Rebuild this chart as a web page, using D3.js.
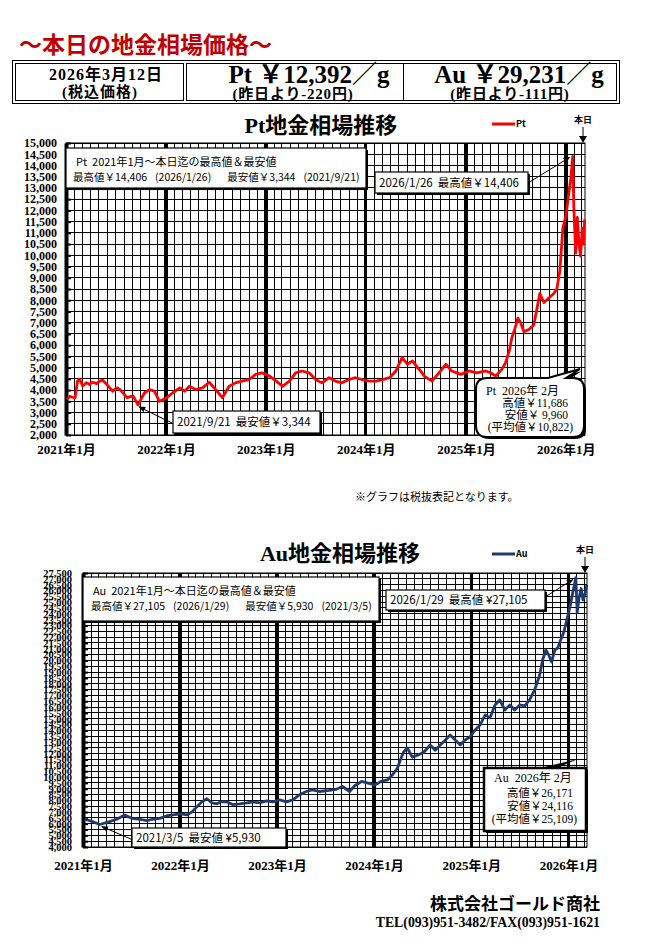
<!DOCTYPE html>
<html>
<head>
<meta charset="utf-8">
<script src="https://cdn.jsdelivr.net/npm/d3@7"></script>
<style>
  body { margin: 0; background: #fff; }
  text { font-family: "Liberation Serif", "Noto Sans CJK JP", serif; white-space: pre; }
  .gothic { font-family: "Noto Sans CJK JP", "Noto Sans", sans-serif; }
  .grid line { shape-rendering: crispEdges; }
</style>
</head>
<body>
<script>
// 表示期間
const startDate = new Date(2021, 0, 1);
const endDate = new Date(2026, 2, 12);
const yearLabels = ["2021年1月", "2022年1月", "2023年1月", "2024年1月", "2025年1月", "2026年1月"];

// Pt 税抜価格
const ptSeries = [
  ["2021-01-05",3600],["2021-01-15",3720],["2021-01-25",3680],["2021-02-03",3650],["2021-02-12",4400],
  ["2021-02-20",4480],["2021-03-03",4180],["2021-03-17",4330],["2021-03-28",4250],["2021-04-08",4350],
  ["2021-04-23",4290],["2021-05-04",4400],["2021-05-15",4440],["2021-05-30",4250],["2021-06-10",4100],
  ["2021-06-21",3950],["2021-07-06",4100],["2021-07-17",4030],["2021-08-12",3660],["2021-09-03",3740],
  ["2021-09-21",3344],["2021-10-15",3880],["2021-11-02",4020],["2021-11-20",3950],["2021-12-08",3500],
  ["2022-01-03",3650],["2022-01-26",3880],["2022-02-21",4100],["2022-03-10",3950],["2022-03-28",4170],
  ["2022-04-20",4020],["2022-05-15",4100],["2022-06-08",4350],["2022-07-02",4020],["2022-07-26",3660],
  ["2022-08-20",4170],["2022-09-12",4320],["2022-10-05",4400],["2022-11-01",4470],["2022-11-25",4700],
  ["2022-12-18",4770],["2023-01-15",4620],["2023-02-08",4400],["2023-03-03",4170],["2023-03-28",4400],
  ["2023-04-20",4770],["2023-05-13",4850],["2023-06-08",4770],["2023-07-02",4470],["2023-07-25",4320],
  ["2023-08-20",4550],["2023-09-12",4400],["2023-10-05",4320],["2023-11-01",4470],["2023-11-25",4550],
  ["2023-12-18",4470],["2024-01-15",4400],["2024-02-08",4400],["2024-03-03",4470],["2024-03-28",4550],
  ["2024-04-20",4850],["2024-05-13",5450],["2024-06-01",5150],["2024-06-20",5300],["2024-07-08",5000],
  ["2024-07-15",4920],["2024-08-02",4620],["2024-08-30",4400],["2024-09-25",4770],["2024-10-20",5150],
  ["2024-11-10",4850],["2024-12-14",4700],["2025-01-12",4850],["2025-02-10",4770],["2025-03-14",4850],
  ["2025-04-01",4770],["2025-04-20",4620],["2025-05-12",4920],["2025-05-26",5220],["2025-06-10",5820],
  ["2025-06-17",6300],["2025-06-28",6700],["2025-07-10",7200],["2025-07-20",7000],["2025-08-01",6600],
  ["2025-08-19",6700],["2025-09-06",6900],["2025-09-17",7600],["2025-09-28",8300],["2025-10-13",7900],
  ["2025-10-31",8100],["2025-11-18",8300],["2025-11-29",8500],["2025-12-10",9300],["2025-12-21",11200],
  ["2026-01-02",11800],["2026-01-10",12600],["2026-01-20",13500],["2026-01-26",14406],["2026-01-30",12200],
  ["2026-02-03",11000],["2026-02-06",10100],["2026-02-12",11686],["2026-02-18",10500],["2026-02-24",9960],
  ["2026-03-02",11200],["2026-03-06",10500],["2026-03-11",11600]
];

// Au 税抜価格
const auSeries = [
  ["2021-01-08",6380],["2021-02-07",6170],["2021-03-05",5930],["2021-04-11",6170],["2021-05-08",6380],
  ["2021-06-07",6750],["2021-07-03",6460],["2021-08-03",6380],["2021-08-29",6260],["2021-09-20",6380],
  ["2021-10-17",6460],["2021-11-13",6680],["2021-12-05",6750],["2022-01-04",6840],["2022-01-27",6750],
  ["2022-02-15",7010],["2022-03-05",7440],["2022-03-24",7870],["2022-04-12",8140],["2022-05-01",7780],
  ["2022-05-20",7700],["2022-06-07",7900],["2022-06-26",7870],["2022-07-18",7640],["2022-08-14",7700],
  ["2022-09-09",7780],["2022-10-02",7870],["2022-10-28",7780],["2022-11-22",7950],["2022-12-16",7870],
  ["2023-01-11",8040],["2023-02-06",7870],["2023-03-01",8040],["2023-03-26",8470],["2023-04-21",8760],
  ["2023-05-14",8900],["2023-06-09",8760],["2023-07-16",8850],["2023-08-12",8950],["2023-09-04",9190],
  ["2023-10-01",8760],["2023-10-20",9250],["2023-11-15",9620],["2023-12-09",9480],["2024-01-05",9330],
  ["2024-01-27",9620],["2024-02-21",9760],["2024-03-10",10190],["2024-03-29",10760],["2024-04-09",11480],
  ["2024-04-21",12150],["2024-05-05",12500],["2024-05-24",11700],["2024-06-15",11900],["2024-07-07",12150],
  ["2024-07-30",12750],["2024-08-18",12300],["2024-09-06",12750],["2024-09-25",13180],["2024-10-13",13600],
  ["2024-11-01",13180],["2024-11-20",12750],["2024-12-08",13180],["2024-12-27",13440],["2025-01-15",14040],
  ["2025-02-03",14470],["2025-02-22",15330],["2025-03-12",15070],["2025-03-31",16180],["2025-04-18",16610],
  ["2025-05-07",15750],["2025-05-26",16180],["2025-06-13",15750],["2025-07-02",16180],["2025-07-21",16100],
  ["2025-08-08",16610],["2025-08-27",17470],["2025-09-15",18760],["2025-09-26",20040],["2025-10-08",20900],
  ["2025-10-19",20470],["2025-10-30",19870],["2025-11-11",20900],["2025-11-22",21070],["2025-12-03",21760],
  ["2025-12-15",22450],["2025-12-26",23480],["2026-01-07",24590],["2026-01-18",25880],["2026-01-29",27105],
  ["2026-02-03",24116],["2026-02-10",25360],["2026-02-18",26171],["2026-02-25",25190],["2026-03-04",25620],
  ["2026-03-11",26500]
];

const ptExtent = [2000, 15000];
const auExtent = [4000, 27500];
const tickStep = 500;

const ptHigh = ["2026-01-26", 14406], ptLow = ["2021-09-21", 3344];
const auHigh = ["2026-01-29", 27105], auLow = ["2021-03-05", 5930];
const ptMonthLines = ["高値￥11,686", "安値￥ 9,960", "(平均値￥10,822)"];
const auMonthLines = ["高値￥26,171", "安値￥24,116", "(平均値￥25,109)"];

const parse = d3.timeParse("%Y-%m-%d");
const fmt = d3.format(",");
const dfmt = d3.timeFormat("%Y/%-m/%-d");

const svg = d3.select("body").append("svg")
  .attr("width", 652).attr("height", 944);

svg.append("defs").append("marker").attr("id", "arr")
  .attr("viewBox", "0 0 10 10").attr("refX", 9).attr("refY", 5)
  .attr("markerWidth", 7).attr("markerHeight", 7).attr("orient", "auto")
  .append("path").attr("d", "M0,1 L10,5 L0,9 Z").attr("fill", "#000");

// 影付きの枠
function shadowBox(g, x, y, w, h, sw) {
  g.append("rect").attr("x", x + 2).attr("y", y + 2).attr("width", w).attr("height", h).attr("fill", "#000");
  g.append("rect").attr("x", x).attr("y", y).attr("width", w).attr("height", h)
    .attr("fill", "#fff").attr("stroke", "#000").attr("stroke-width", sw || 1.2);
}

// ---- ヘッダー ----
svg.append("text").attr("x", 19).attr("y", 53)
  .attr("font-size", 23).attr("font-weight", "bold").attr("fill", "#c00000")
  .text("～本日の地金相場価格～");

const hd = svg.append("g").attr("fill", "none").attr("stroke", "#000");
hd.append("rect").attr("x", 12.5).attr("y", 60.5).attr("width", 607).attr("height", 43);
hd.append("rect").attr("x", 15.5).attr("y", 63.5).attr("width", 168).attr("height", 37);
hd.append("rect").attr("x", 186.5).attr("y", 63.5).attr("width", 430).attr("height", 37);
hd.append("line").attr("x1", 403.5).attr("x2", 403.5).attr("y1", 63.5).attr("y2", 100.5);

const headerTexts = [
  { x: 106, y: 80, s: 16, ls: 1, t: "2026年3月12日" },
  { x: 100, y: 97, s: 15, ls: 1, t: "(税込価格)" },
  { x: 309, y: 83, s: 25, ls: 0, t: "Pt ￥12,392／g" },
  { x: 293, y: 99, s: 15, ls: 0.8, t: "(昨日より-220円)" },
  { x: 519, y: 83, s: 25, ls: 0, t: "Au ￥29,231／g" },
  { x: 510, y: 99, s: 15, ls: 0.8, t: "(昨日より-111円)" }
];
svg.selectAll(".hdt").data(headerTexts).join("text")
  .attr("x", d => d.x).attr("y", d => d.y).attr("font-size", d => d.s)
  .attr("letter-spacing", d => d.ls)
  .attr("font-weight", "bold").attr("text-anchor", "middle").text(d => d.t);

// ---- チャート ----
function drawChart(c) {
  const g = svg.append("g");
  const data = c.series.map(d => ({ date: parse(d[0]), v: d[1] }));
  const x = d3.scaleTime().domain([startDate, endDate]).range([c.left, c.right]);
  const y = d3.scaleLinear().domain(c.extent).range([c.bottom, c.top]);
  const ticks = d3.range(c.extent[0], c.extent[1] + 1, tickStep);

  // 枠と格子
  const grid = g.append("g").attr("class", "grid");
  grid.append("rect").attr("x", c.left).attr("y", c.top)
    .attr("width", c.right - c.left).attr("height", c.bottom - c.top)
    .attr("fill", "#fff").attr("stroke", "#000").attr("stroke-width", 1);
  grid.selectAll(".vm").data(d3.timeMonth.range(startDate, endDate)).join("line")
    .attr("x1", d => x(d)).attr("x2", d => x(d)).attr("y1", c.top).attr("y2", c.bottom)
    .attr("stroke", "#000").attr("stroke-width", 1);
  grid.selectAll(".hm").data(ticks).join("line")
    .attr("x1", c.left).attr("x2", c.right).attr("y1", d => y(d)).attr("y2", d => y(d))
    .attr("stroke", "#000").attr("stroke-width", 1);
  grid.selectAll(".vy").data(d3.timeYear.range(new Date(2022, 0, 1), endDate)).join("line")
    .attr("x1", d => x(d)).attr("x2", d => x(d)).attr("y1", c.top).attr("y2", c.bottom)
    .attr("stroke", "#000").attr("stroke-width", 3.5);

  // 縦軸
  const ya = g.append("g").attr("transform", `translate(${c.left},0)`)
    .call(d3.axisLeft(y).tickValues(ticks).tickFormat(fmt)
      .tickSizeInner(-5).tickSizeOuter(0).tickPadding(c.labelPad));
  ya.select(".domain").attr("stroke-width", 4);
  ya.selectAll(".tick line").attr("stroke-width", 2);
  ya.selectAll(".tick text").attr("font-size", c.labelSize).attr("font-weight", "bold")
    .attr("fill", "#000").attr("font-family", "'Liberation Serif', serif");

  // 横軸
  const xa = g.append("g").attr("transform", `translate(0,${c.bottom})`)
    .call(d3.axisBottom(x).tickValues(d3.timeYear.range(startDate, endDate))
      .tickFormat((d, i) => yearLabels[i]).tickSize(0).tickPadding(c.xPad));
  xa.select(".domain").remove();
  xa.selectAll(".tick text").attr("font-size", 13).attr("font-weight", "bold")
    .attr("fill", "#000").attr("font-family", "'Liberation Serif', 'Noto Sans CJK JP', serif");

  // 価格線
  g.append("path").datum(data)
    .attr("d", d3.line().x(d => x(d.date)).y(d => y(d.v)))
    .attr("fill", "none").attr("stroke", c.color).attr("stroke-width", 2.8)
    .attr("stroke-linejoin", "round");

  // タイトル・凡例・本日
  g.append("text").attr("x", c.titleX).attr("y", c.titleY).attr("text-anchor", "middle")
    .attr("font-size", 22).attr("font-weight", "bold").text(c.name + "地金相場推移");
  g.append("line").attr("x1", 492).attr("x2", 515).attr("y1", c.legendY).attr("y2", c.legendY)
    .attr("stroke", c.color).attr("stroke-width", 3);
  g.append("text").attr("class", "gothic").attr("x", 516).attr("y", c.legendY + 3)
    .attr("font-size", 9).attr("font-weight", "bold").text(c.name);
  const tx = x(endDate) - 2;
  g.append("text").attr("class", "gothic").attr("x", tx).attr("y", c.top - 20)
    .attr("text-anchor", "middle").attr("font-size", 9).attr("font-weight", "bold").text("本日");
  g.append("line").attr("x1", tx).attr("x2", tx).attr("y1", c.top - 16).attr("y2", c.top - 5)
    .attr("stroke", "#000").attr("stroke-width", 1);
  g.append("path").attr("d", `M${tx - 4},${c.top - 7} L${tx + 4},${c.top - 7} L${tx},${c.top} Z`)
    .attr("fill", "#000");

  // 期間の最高値・最安値
  const b = c.infoBox;
  shadowBox(g, b[0], b[1], b[2], b[3]);
  g.append("text").attr("class", "gothic").attr("x", b[0] + 10).attr("y", b[1] + 18)
    .attr("font-size", 11).text(`${c.name}  2021年1月～本日迄の最高値＆最安値`);
  const parts = [
    `最高値￥${fmt(c.high[1])}`, `(${dfmt(parse(c.high[0]))})`,
    `最安値￥${fmt(c.low[1])}`, `(${dfmt(parse(c.low[0]))})`
  ];
  const gaps = [8, 16, 8, 0];
  let cx = c.infoX;
  parts.forEach((t, i) => {
    const el = g.append("text").attr("class", "gothic").attr("x", cx).attr("y", b[1] + 33)
      .attr("font-size", 10.5).text(t);
    cx += el.node().getComputedTextLength() + gaps[i];
  });

  // 吹き出し（最高値・最安値）
  [[c.high, c.highBox, "最高値"], [c.low, c.lowBox, "最安値"]].forEach(([p, bx, lab]) => {
    const px = x(parse(p[0])), py = y(p[1]);
    g.append("line").attr("x1", bx[4]).attr("y1", bx[5]).attr("x2", px + bx[6]).attr("y2", py + bx[7])
      .attr("stroke", "#000").attr("stroke-width", 1).attr("marker-end", "url(#arr)");
    shadowBox(g, bx[0], bx[1], bx[2], bx[3]);
    g.append("text").attr("class", "gothic").attr("x", bx[0] + 4).attr("y", bx[1] + bx[3] / 2 + 4)
      .attr("font-size", 11.5)
      .text(`${dfmt(parse(p[0]))}  ${lab}${c.yen}${fmt(p[1])}`);
  });

  // 当月の高値・安値
  c.drawMonthBox(g);
  const m = c.monthBox;
  g.append("text").attr("x", m.x1 + 10).attr("y", m.y1 + m.dy[0]).attr("font-size", 12)
    .text(`${c.name}  2026年 2月`);
  g.selectAll(".ml").data(c.monthLines).join("text")
    .attr("x", (d, i) => i === 2 ? m.x2 - m.r[1] : m.x2 - m.r[0])
    .attr("y", (d, i) => m.y1 + m.dy[i + 1])
    .attr("text-anchor", "end").attr("font-size", 11.5)
    .text(d => d);
}

drawChart({
  name: "Pt", series: ptSeries, extent: ptExtent, color: "#ff0000",
  left: 66, right: 585, top: 143, bottom: 435,
  labelSize: 12, labelPad: 9, xPad: 10,
  titleX: 321, titleY: 133, legendY: 124,
  high: ptHigh, low: ptLow, yen: "￥",
  infoBox: [66, 148, 300, 40], infoX: 73,
  highBox: [375, 172, 153, 21, 528, 183, -3, 1],
  lowBox: [173, 411, 147, 22, 174, 424, 1, 2],
  monthLines: ptMonthLines,
  monthBox: { x1: 476, y1: 378, x2: 584, y2: 437, dy: [17, 29, 41, 53], r: [16, 11] },
  drawMonthBox: function (g) {
    const { x1, y1, x2, y2 } = this.monthBox, r = 11;
    const p = `M${x1 + r},${y1} L548,${y1} L580,369 L566,${y1} L${x2 - r},${y1} Q${x2},${y1} ${x2},${y1 + r}
      L${x2},${y2 - r} Q${x2},${y2} ${x2 - r},${y2} L${x1 + r},${y2} Q${x1},${y2} ${x1},${y2 - r}
      L${x1},${y1 + r} Q${x1},${y1} ${x1 + r},${y1} Z`;
    g.append("path").attr("d", p).attr("transform", "translate(2,2)").attr("fill", "#000");
    g.append("path").attr("d", p).attr("fill", "#fff").attr("stroke", "#000").attr("stroke-width", 2);
  }
});

drawChart({
  name: "Au", series: auSeries, extent: auExtent, color: "#1f3a6e",
  left: 83, right: 587, top: 573, bottom: 847,
  labelSize: 10.5, labelPad: 11, xPad: 14,
  titleX: 340, titleY: 561, legendY: 554,
  high: auHigh, low: auLow, yen: " ¥",
  infoBox: [83, 577, 296, 44], infoX: 91,
  highBox: [386, 590, 159, 20, 545, 597, -3, 2],
  lowBox: [132, 828, 154, 19, 133, 840, 2, 2],
  monthLines: auMonthLines,
  monthBox: { x1: 484, y1: 768, x2: 586, y2: 831, dy: [14, 29, 42, 55], r: [13, 9] },
  drawMonthBox: function (g) {
    const { x1, y1, x2, y2 } = this.monthBox;
    g.append("path").attr("d", `M540,${y1} L578,759 L557,${y1} Z`).attr("fill", "#000");
    g.append("rect").attr("x", x1 + 2).attr("y", y1 + 2).attr("width", x2 - x1).attr("height", y2 - y1).attr("fill", "#000");
    g.append("rect").attr("x", x1).attr("y", y1).attr("width", x2 - x1).attr("height", y2 - y1)
      .attr("fill", "#fff").attr("stroke", "#000").attr("stroke-width", 2.5);
  }
});

// 注記・フッター
svg.append("text").attr("class", "gothic").attr("x", 355).attr("y", 501)
  .attr("font-size", 11).text("※グラフは税抜表記となります。");
svg.append("text").attr("x", 600).attr("y", 910).attr("text-anchor", "end")
  .attr("font-size", 17).attr("font-weight", "bold").text("株式会社ゴールド商社");
svg.append("text").attr("x", 600).attr("y", 927).attr("text-anchor", "end")
  .attr("font-size", 13.8).attr("font-weight", "bold").text("TEL(093)951-3482/FAX(093)951-1621");
</script>
</body>
</html>
